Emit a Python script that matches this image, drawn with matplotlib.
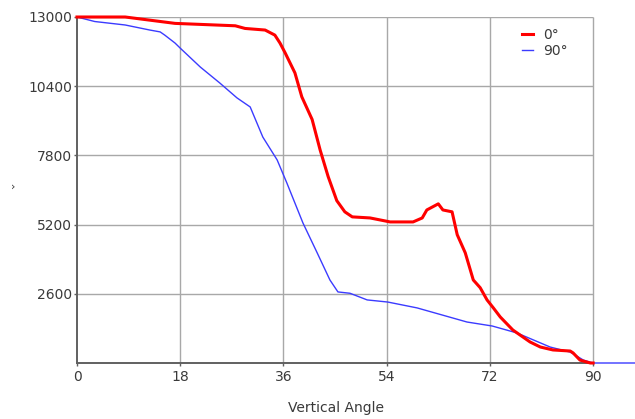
import matplotlib
matplotlib.use('Agg')
import matplotlib.pyplot as plt

# Red series (0 deg)
angle_0 = [0, 8.4, 17.1, 27.6, 29.3, 32.8, 34.5, 35.4, 36.3, 38.0, 39.2, 41.0, 42.4,
           43.8, 45.3, 46.7, 48.0, 51.1, 54.6, 58.6, 60.2, 61.0, 63.0, 63.8, 65.4,
           66.3, 67.7, 69.1, 70.3, 71.5, 72.6, 73.8, 76.0, 79.0, 80.8, 83.0, 86.0,
           86.5, 87.7, 89.5, 90]
value_0 = [13000, 13000, 12760, 12670, 12570, 12510, 12320, 12020, 11650, 10900, 10000,
           9150, 8000, 7000, 6100, 5680, 5490, 5450, 5300, 5300, 5450, 5750, 5980, 5750,
           5680, 4820, 4140, 3120, 2830, 2370, 2070, 1730, 1240, 790, 600, 490, 450,
           380, 110, 0, 0]

# Blue series (90 deg)
angle_90 = [0, 3.1, 8.4, 12.7, 14.5, 15.3, 17.1, 18.0, 21.5, 24.9, 27.9, 30.2, 32.4,
            34.9, 36.6, 39.4, 41.9, 44.1, 45.5, 47.6, 50.6, 54.2, 59.3, 68.0, 72.4,
            76.7, 82.5, 86.0, 88.3, 90, 97.3]
value_90 = [13000, 12830, 12700, 12510, 12440, 12320, 12020, 11830, 11120, 10520, 9960,
            9620, 8490, 7630, 6760, 5260, 4130, 3120, 2670, 2620, 2370, 2290, 2070, 1540,
            1390, 1130, 600, 410, 110, 0, 0]

x_ticks = [0, 18, 36, 54, 72, 90]
y_ticks = [2600, 5200, 7800, 10400, 13000]

plt.rcParams['font.family'] = 'DejaVu Sans'

fig = plt.figure(figsize=(6.35, 4.19), dpi=100)
ax = fig.add_axes([77 / 635, 1 - 363 / 419, 558 / 635, 346 / 419])

grid_col = '#a8a8a8'
ax.hlines(y_ticks, 0, 90, color=grid_col, lw=1.0, zorder=1)
ax.vlines(x_ticks[1:], 0, 13000, color=grid_col, lw=1.0, zorder=1)

ax.plot(angle_90, value_90, color='#3b3bff', lw=1.0, label='90°', zorder=3, clip_on=False)
ax.plot(angle_0, value_0, color='#ff0000', lw=2.2, label='0°', zorder=4, clip_on=False)

ax.set_xlim(0, 97.3)
ax.set_ylim(0, 13000)
ax.set_xticks(x_ticks)
ax.set_yticks(y_ticks)
ax.spines['top'].set_visible(False)
ax.spines['right'].set_visible(False)
for s in ['left', 'bottom']:
    ax.spines[s].set_color('#606060')
    ax.spines[s].set_linewidth(1.4)
ax.spines['bottom'].set_bounds(0, 90)
ax.tick_params(length=2, width=1, color='#606060', labelcolor='#3a3a3a', labelsize=10)
ax.tick_params(axis='y', pad=1.5)
ax.tick_params(axis='x', pad=3)

handles, labels = ax.get_legend_handles_labels()
ax.legend(handles[::-1], labels[::-1], loc='upper left', bbox_to_anchor=(0.7975, 0.968),
          frameon=False, borderpad=0, borderaxespad=0, handlelength=0.8,
          handletextpad=0.7, labelspacing=0.15, fontsize=10, labelcolor='#3a3a3a')

fig.text(336 / 635, 1 - 408 / 419, 'Vertical Angle', ha='center', va='center',
         fontsize=10, color='#3a3a3a')
fig.text(13 / 635, 1 - 187 / 419, '›', ha='center', va='center', fontsize=8, color='#3a3a3a')

fig.savefig('out.png', dpi=100)
